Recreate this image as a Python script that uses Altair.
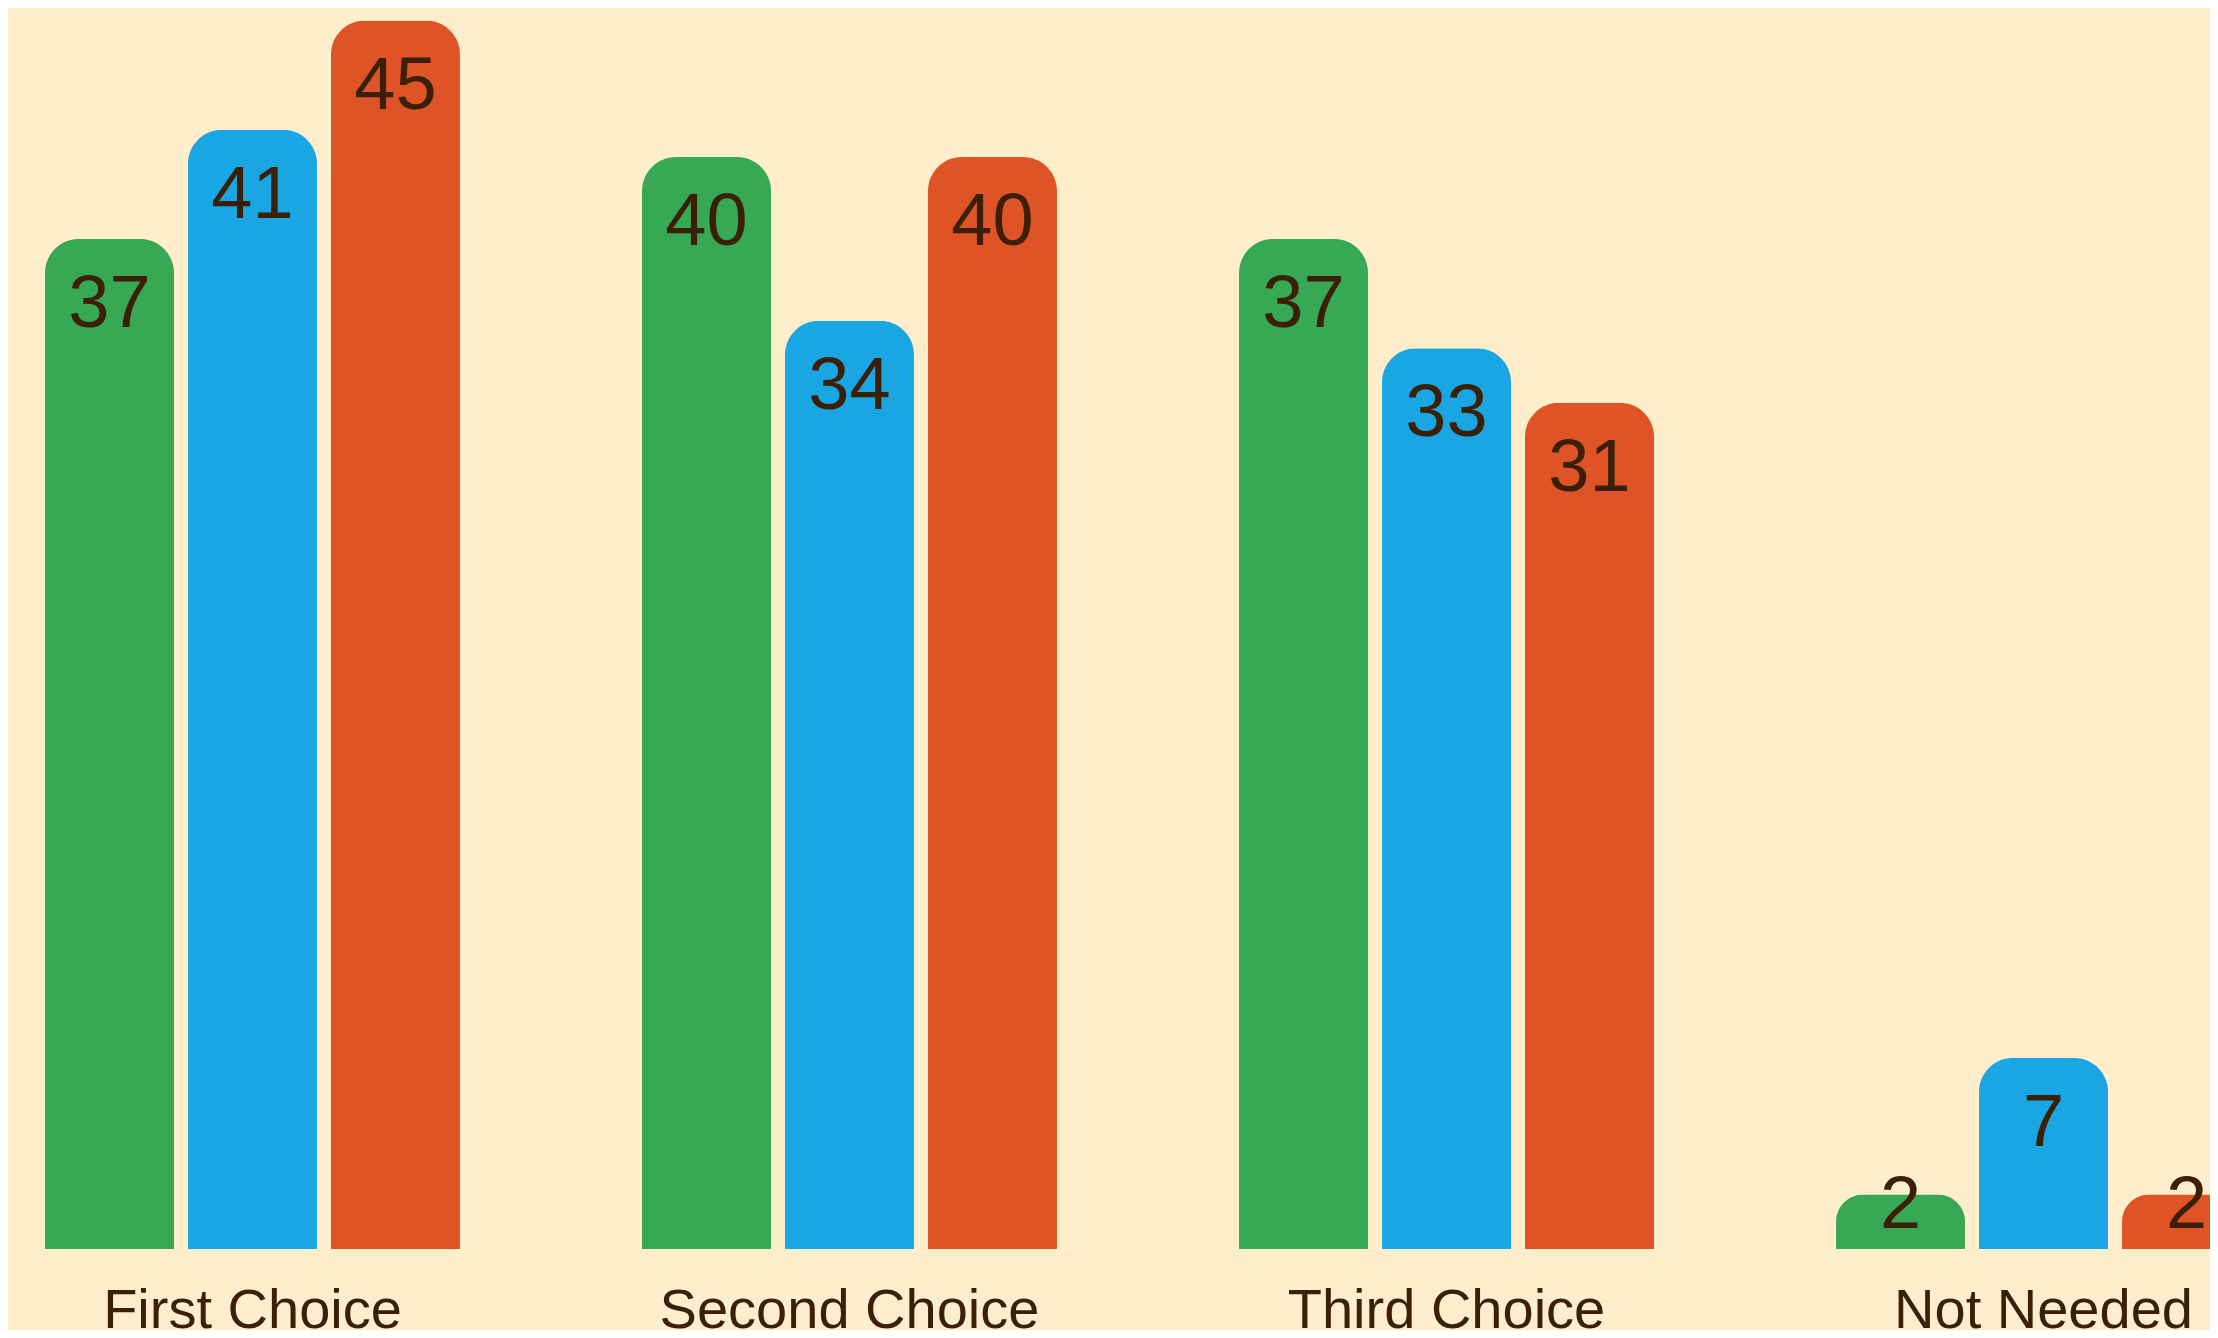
import altair as alt
import pandas as pd

categories = ["First Choice", "Second Choice", "Third Choice", "Not Needed"]
series = ["Series 1", "Series 2", "Series 3"]
values_s1 = [37, 40, 37, 2]
values_s2 = [41, 34, 33, 7]
values_s3 = [45, 40, 31, 2]
colors = ["#37A853", "#1AA6E3", "#DE5426"]

rows = []
for s, vals in zip(series, [values_s1, values_s2, values_s3]):
    for c, v in zip(categories, vals):
        rows.append({"category": c, "series": s, "value": v})
df = pd.DataFrame(rows)

TEXT = "#3B2007"
FONT = "Liberation Sans"

x = alt.X(
    "category:N",
    sort=categories,
    scale=alt.Scale(range=[37, 2243], paddingInner=0.3049, paddingOuter=0),
    axis=alt.Axis(
        title=None, domain=False, ticks=False, grid=False, labelAngle=0,
        labelFont=FONT, labelFontSize=56, labelColor=TEXT, labelLimit=0,
        labelPadding=78, labelBaseline="alphabetic", labelOverlap=False,
    ),
)
xo = alt.XOffset("series:N", sort=series,
                 scale=alt.Scale(paddingInner=0.0979, paddingOuter=0))
yscale = alt.Scale(domain=[0, 45.46], nice=False, zero=True)

bars = alt.Chart(df).mark_bar(
    cornerRadiusTopLeft=34, cornerRadiusTopRight=34
).encode(
    x=x,
    xOffset=xo,
    y=alt.Y("value:Q", scale=yscale, axis=None),
    color=alt.Color("series:N", scale=alt.Scale(domain=series, range=colors), legend=None),
)

labels = alt.Chart(df).transform_calculate(
    label_y="max(datum.value - 3.23, 0.77)"
).mark_text(
    font=FONT, fontSize=74, color=TEXT, baseline="alphabetic", align="center"
).encode(
    x=x,
    xOffset=xo,
    y=alt.Y("label_y:Q", scale=yscale, axis=None),
    text="value:Q",
)

chart = alt.layer(bars, labels).properties(
    width=2202,
    height=1241,
    padding={"left": 0, "top": 0, "right": 0, "bottom": 81},
    autosize=alt.AutoSizeParams(type="none"),
    background="#FFEECB",
).configure_view(stroke=None)

chart.save("out.html", embed_options={"renderer": "svg", "actions": False})
